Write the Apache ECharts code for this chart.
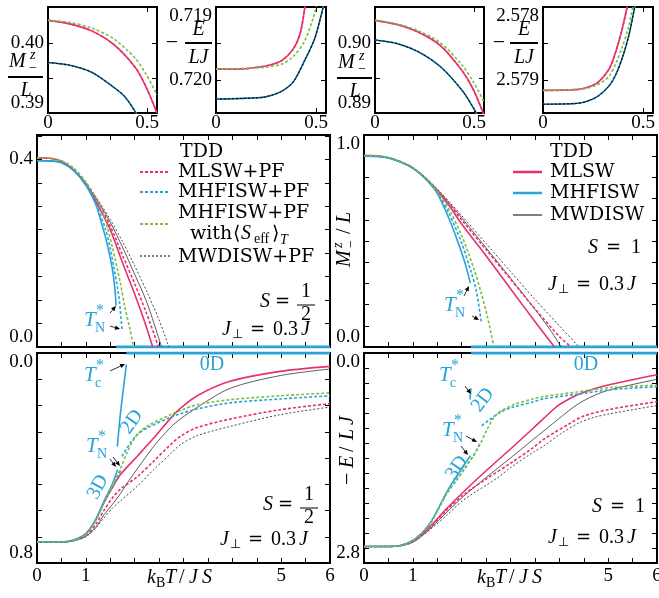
<!DOCTYPE html>
<html><head><meta charset="utf-8">
<script src="https://cdn.jsdelivr.net/npm/echarts@6/dist/echarts.min.js"></script>
<style>html,body{margin:0;padding:0;background:#fff}#c{width:659px;height:598px}</style>
</head><body><div id="c"></div>
<script>
// ---------------- DATA ----------------
// Insets, S=1/2 : M^z_-/L and -E/LJ at low T
const inM_half_pink  = [[0,0.4032],[0.11,0.4027],[0.22,0.4017],[0.33,0.3998],[0.44,0.3965],[0.495,0.3937],[0.55,0.3900]];
const inM_half_green = [[0,0.4032],[0.11,0.4029],[0.22,0.4021],[0.33,0.4006],[0.44,0.3978],[0.495,0.3955],[0.55,0.3926]];
const inM_half_blue  = [[0,0.3972],[0.11,0.3968],[0.22,0.3958],[0.33,0.3937],[0.385,0.3924],[0.44,0.3902],[0.46,0.3890]];
const inE_half_pink  = [[0,0.71985],[0.11,0.71985],[0.22,0.71982],[0.275,0.71979],[0.33,0.71973],[0.385,0.71958],[0.42,0.71937],[0.445,0.71900],[0.46,0.71875]];
const inE_half_green = [[0,0.71985],[0.22,0.71983],[0.33,0.71978],[0.385,0.71968],[0.44,0.71948],[0.485,0.71916],[0.505,0.71895]];
const inE_half_blue  = [[0,0.72026],[0.22,0.72024],[0.275,0.72021],[0.33,0.72015],[0.385,0.72003],[0.44,0.71975],[0.495,0.71942],[0.54,0.71895]];
// Insets, S=1
const inM_one_pink  = [[0,0.9032],[0.11,0.9026],[0.22,0.9015],[0.33,0.8996],[0.44,0.8960],[0.495,0.8934],[0.55,0.8897]];
const inM_one_green = [[0,0.9032],[0.11,0.9027],[0.22,0.9017],[0.33,0.9000],[0.44,0.8968],[0.495,0.8945],[0.55,0.8916]];
const inM_one_blue  = [[0,0.9004],[0.11,0.8999],[0.22,0.8987],[0.33,0.8966],[0.44,0.8932],[0.495,0.8908],[0.52,0.8895]];
const inE_one_pink  = [[0,2.57914],[0.165,2.57913],[0.22,2.5791],[0.275,2.57903],[0.33,2.57885],[0.363,2.57862],[0.396,2.5783],[0.43,2.57788]];
const inE_one_green = [[0,2.57914],[0.165,2.57913],[0.22,2.57911],[0.275,2.57906],[0.33,2.57895],[0.363,2.57878],[0.396,2.57855],[0.43,2.57825],[0.462,2.5778]];
const inE_one_blue  = [[0,2.57933],[0.165,2.57932],[0.22,2.57929],[0.275,2.57922],[0.33,2.57908],[0.363,2.57893],[0.396,2.5787],[0.43,2.57838],[0.462,2.57795]];

// Main: S=1/2 magnetization
const M_half_MLSW      = [[0,0.4032],[0.25,0.4025],[0.5,0.396],[0.75,0.378],[1.0,0.347],[1.25,0.302],[1.5,0.25],[1.75,0.18],[2.0,0.113],[2.2,0.055],[2.37,0]];
const M_half_MLSW_PF   = [[0,0.4032],[0.25,0.4025],[0.5,0.396],[0.75,0.379],[1.0,0.349],[1.25,0.307],[1.5,0.258],[1.75,0.196],[2.0,0.135],[2.25,0.07],[2.49,0]];
const M_half_MHFISW    = [[0,0.3972],[0.25,0.3968],[0.5,0.393],[0.75,0.376],[1.0,0.345],[1.2,0.305],[1.3,0.272],[1.4,0.235],[1.5,0.19],[1.56,0.155],[1.6,0.118],[1.62,0.088]];
const M_half_MHFISW_PF = [[0,0.3972],[0.25,0.3968],[0.5,0.393],[0.75,0.377],[1.0,0.346],[1.2,0.307],[1.4,0.252],[1.5,0.21],[1.58,0.166],[1.65,0.125],[1.69,0.095],[1.74,0.036]];
const M_half_Seff      = [[0,0.4032],[0.25,0.4027],[0.5,0.397],[0.75,0.382],[1.0,0.352],[1.25,0.31],[1.4,0.27],[1.55,0.21],[1.7,0.14],[1.8,0.085],[1.9,0.04],[1.98,0]];
const M_half_MWDISW    = [[0,0.3972],[0.25,0.3968],[0.5,0.393],[0.75,0.377],[1.0,0.348],[1.25,0.31],[1.5,0.266],[1.75,0.213],[2.0,0.155],[2.25,0.095],[2.55,0]];
const M_half_MWDISW_PF = [[0,0.3972],[0.25,0.3968],[0.5,0.393],[0.75,0.378],[1.0,0.35],[1.25,0.313],[1.5,0.272],[1.75,0.225],[2.0,0.173],[2.25,0.118],[2.5,0.058],[2.7,0]];
const M_half_MHFISW_0  = [[1.62,0],[6,0]];
// Main: S=1 magnetization
const M_one_MLSW      = [[0,0.9032],[0.25,0.902],[0.5,0.893],[0.75,0.873],[1.0,0.845],[1.25,0.797],[1.5,0.735],[1.75,0.665],[2.0,0.58],[2.5,0.43],[3.0,0.275],[3.5,0.12],[3.9,0]];
const M_one_MLSW_PF   = [[0,0.9032],[0.25,0.902],[0.5,0.893],[0.75,0.874],[1.0,0.846],[1.25,0.799],[1.5,0.74],[1.75,0.673],[2.0,0.6],[2.5,0.46],[3.0,0.32],[3.5,0.18],[4.0,0.05],[4.24,0]];
const M_one_MHFISW    = [[0,0.9004],[0.25,0.899],[0.5,0.892],[0.75,0.873],[1.0,0.843],[1.25,0.795],[1.5,0.725],[1.75,0.6],[1.9,0.51],[2.05,0.41],[2.18,0.30]];
const M_one_MHFISW_PF = [[0,0.9004],[0.25,0.899],[0.5,0.892],[0.75,0.874],[1.0,0.844],[1.25,0.797],[1.5,0.728],[1.75,0.625],[2.0,0.49],[2.2,0.35],[2.3,0.265],[2.4,0.121]];
const M_one_Seff      = [[0,0.9032],[0.25,0.902],[0.5,0.894],[0.75,0.875],[1.0,0.846],[1.25,0.8],[1.5,0.735],[1.75,0.645],[2.0,0.525],[2.25,0.37],[2.4,0.255],[2.53,0.14],[2.66,0]];
const M_one_MWDISW    = [[0,0.9004],[0.25,0.899],[0.5,0.892],[0.75,0.874],[1.0,0.845],[1.25,0.8],[1.5,0.742],[1.75,0.678],[2.0,0.61],[2.5,0.468],[3.0,0.325],[3.5,0.178],[3.8,0.085],[4.04,0]];
const M_one_MWDISW_PF = [[0,0.9004],[0.25,0.899],[0.5,0.892],[0.75,0.875],[1.0,0.846],[1.25,0.802],[1.5,0.746],[1.75,0.684],[2.0,0.62],[2.5,0.488],[3.0,0.356],[3.5,0.225],[4.0,0.1],[4.41,0]];
const M_one_MHFISW_0  = [[2.19,0],[6,0]];
// Main: S=1/2 energy (-E/LJ)
const E_half_MLSW      = [[0,0.7198],[0.5,0.7197],[0.75,0.712],[1.0,0.688],[1.2,0.637],[1.37,0.571],[1.54,0.514],[1.71,0.463],[2.05,0.394],[2.39,0.324],[2.73,0.25],[2.93,0.212],[3.28,0.163],[3.95,0.108],[4.98,0.07],[6,0.051]];
const E_half_MLSW_PF   = [[0,0.7198],[0.5,0.7197],[0.75,0.714],[1.0,0.695],[1.2,0.654],[1.37,0.6],[1.54,0.553],[1.71,0.518],[2.05,0.472],[2.39,0.412],[2.73,0.35],[2.93,0.318],[3.28,0.284],[3.95,0.252],[4.98,0.216],[6,0.193]];
const E_half_MWDISW    = [[0,0.7203],[0.5,0.7202],[0.75,0.715],[1.0,0.698],[1.2,0.665],[1.37,0.617],[1.54,0.578],[1.71,0.535],[1.88,0.487],[2.05,0.442],[2.39,0.356],[2.73,0.284],[2.93,0.252],[3.28,0.207],[3.95,0.135],[4.98,0.086],[6,0.061]];
const E_half_MWDISW_PF = [[0,0.7203],[0.5,0.7202],[0.75,0.716],[1.0,0.7],[1.2,0.667],[1.37,0.629],[1.54,0.592],[1.71,0.563],[2.05,0.508],[2.39,0.444],[2.73,0.385],[2.93,0.35],[3.28,0.315],[3.95,0.28],[4.98,0.235],[6,0.206]];
const E_half_MHFISW_3D = [[0,0.7203],[0.5,0.7202],[0.75,0.713],[1.0,0.69],[1.2,0.635],[1.37,0.565],[1.54,0.5],[1.65,0.445]];
const E_half_MHFISW_2D = [[1.645,0.356],[1.70,0.245],[1.76,0.15],[1.83,0.044]];
const E_half_MHFISW_0D = [[1.83,0],[6,0]];
const E_half_MHFISW_PF_3D = [[0,0.7203],[0.5,0.7202],[0.75,0.713],[1.0,0.69],[1.2,0.637],[1.37,0.57],[1.54,0.508],[1.64,0.475],[1.73,0.442]];
const E_half_MHFISW_PF_2D = [[1.74,0.394],[1.91,0.343],[2.05,0.311],[2.25,0.286],[2.73,0.245],[2.93,0.232],[3.28,0.213],[3.95,0.19],[4.98,0.175],[6,0.163]];
const E_half_Seff      = [[0,0.7198],[0.5,0.7197],[0.75,0.713],[1.0,0.69],[1.2,0.637],[1.37,0.571],[1.54,0.508],[1.64,0.47],[1.71,0.44],[1.84,0.381],[1.98,0.33],[2.08,0.305],[2.25,0.279],[2.73,0.235],[2.93,0.22],[3.28,0.197],[3.95,0.178],[4.98,0.163],[6,0.152]];
// Main: S=1 energy (-E/LJ)
const E_one_MLSW      = [[0,2.5791],[0.5,2.579],[0.75,2.566],[1.0,2.51],[1.2,2.41],[1.36,2.31],[1.7,2.07],[2.04,1.85],[2.5,1.57],[3.0,1.28],[3.47,1.0],[3.9,0.74],[4.02,0.68],[4.36,0.56],[4.7,0.48],[5.04,0.42],[6,0.29]];
const E_one_MLSW_PF   = [[0,2.5791],[0.5,2.579],[0.75,2.567],[1.0,2.515],[1.36,2.32],[1.7,2.09],[2.04,1.89],[2.5,1.68],[3.0,1.47],[3.47,1.26],[3.68,1.15],[4.24,0.93],[4.5,0.84],[5.04,0.75],[6,0.65]];
const E_one_MWDISW    = [[0,2.5793],[0.5,2.5792],[0.75,2.568],[1.0,2.52],[1.2,2.43],[1.36,2.34],[1.7,2.12],[2.04,1.91],[2.5,1.66],[3.0,1.40],[3.47,1.15],[3.68,1.04],[4.04,0.85],[4.36,0.69],[4.7,0.57],[5.04,0.49],[6,0.35]];
const E_one_MWDISW_PF = [[0,2.5793],[0.5,2.5792],[0.75,2.569],[1.0,2.525],[1.36,2.35],[1.7,2.16],[2.04,1.96],[2.72,1.67],[3.0,1.53],[3.47,1.32],[3.68,1.24],[4.02,1.08],[4.41,0.93],[4.7,0.86],[5.04,0.81],[6,0.70]];
const E_one_MHFISW_3D = [[0,2.5793],[0.5,2.5792],[0.75,2.566],[1.0,2.5],[1.2,2.39],[1.36,2.26],[1.5,2.1],[1.6,1.97],[1.7,1.85],[1.8,1.74],[1.9,1.64],[2.04,1.50],[2.18,1.37]];
const E_one_MHFISW_2D = [[2.17,0.62],[2.19,0.47]];
const E_one_MHFISW_0D = [[2.19,0],[6,0]];
const E_one_MHFISW_PF_3D = [[0,2.5793],[0.5,2.5792],[0.75,2.566],[1.0,2.5],[1.2,2.39],[1.36,2.27],[1.5,2.11],[1.7,1.87],[1.9,1.69],[2.04,1.56],[2.24,1.37],[2.32,1.28],[2.37,1.21]];
const E_one_MHFISW_PF_2D = [[2.41,0.97],[2.59,0.88],[2.79,0.79],[3.06,0.72],[3.47,0.65],[3.68,0.61],[4.36,0.55],[5.04,0.49],[6,0.45]];
const E_one_Seff      = [[0,2.5791],[0.5,2.579],[0.75,2.566],[1.0,2.5],[1.2,2.39],[1.36,2.27],[1.5,2.11],[1.7,1.87],[1.9,1.69],[2.04,1.56],[2.24,1.37],[2.38,1.21],[2.52,1.02],[2.65,0.87],[2.79,0.78],[3.06,0.69],[3.47,0.61],[3.68,0.58],[4.36,0.52],[5.04,0.46],[6,0.43]];

// tick labels
const insetXLabels = [0, 0.5];
const mainXLabels = [0, 1, 5, 6];

// ---------------- STYLE / LAYOUT ----------------
const PINK='#e8306e', BLUE='#29a3da', GREEN='#7bbf44', BLK='#333';
const grids = [
 {left:48, top:7, width:109, height:106},
 {left:216, top:7, width:110, height:106},
 {left:375, top:7, width:109, height:106},
 {left:543, top:7, width:110, height:106},
 {left:37, top:135, width:293, height:212},
 {left:364, top:135, width:293, height:212},
 {left:37, top:353, width:293, height:210},
 {left:364, top:353, width:293, height:210}
].map(g => Object.assign(g, {show:true, borderColor:'#000', borderWidth:2, backgroundColor:'transparent', containLabel:false, outerBoundsMode:'none'}));

function near(v, list){ return list.find(a => Math.abs(a - v) < 1e-7); }
function fmtList(list, dec){ return v => { const a = near(v, list); return a === undefined ? '' : (dec === null ? String(a) : a.toFixed(dec)); }; }

const xCfg = [
 {min:0,max:0.55,interval:0.5, fmt: fmtList(insetXLabels, null), margin:1},
 {min:0,max:0.55,interval:0.5, fmt: fmtList(insetXLabels, null), margin:1},
 {min:0,max:0.55,interval:0.5, fmt: fmtList(insetXLabels, null), margin:1},
 {min:0,max:0.55,interval:0.5, fmt: fmtList(insetXLabels, null), margin:1},
 {min:0,max:6,interval:0.5},
 {min:0,max:6,interval:0.5},
 {min:0,max:6,interval:0.5, fmt: fmtList(mainXLabels, 0), margin:4},
 {min:0,max:6,interval:0.5, fmt: fmtList(mainXLabels, 0), margin:4}
];
const yCfg = [
 {min:0.39, max:0.4051, interval:0.005, fmt: fmtList([0.39,0.40],2), vMin:'bottom'},
 {min:0.719, max:0.72045, interval:0.0005, inverse:true, fmt: fmtList([0.719,0.720],3), vMin:'top'},
 {min:0.89, max:0.9051, interval:0.005, fmt: fmtList([0.89,0.90],2), vMin:'bottom'},
 {min:2.578, max:2.57945, interval:0.0005, inverse:true, fmt: fmtList([2.578,2.579],3), vMin:'top'},
 {min:0, max:0.452, interval:0.05, fmt: fmtList([0,0.4],1), vMin:'bottom'},
 {min:0, max:1.0, interval:0.1, fmt: fmtList([0,1.0],1), vMin:'bottom', vMax:'top'},
 {min:0, max:0.8, interval:0.1, inverse:true, fmt: fmtList([0,0.8],1), vMin:'top', vMax:'bottom'},
 {min:0, max:2.8, interval:0.2, inverse:true, fmt: fmtList([0,2.8],1), vMin:'top', vMax:'bottom'}
];
function axisPair(kind, g, c){
  const base = {gridIndex:g, type:'value', min:c.min, max:c.max, interval:c.interval, inverse:!!c.inverse,
    axisLine:{show:false, onZero:false}, splitLine:{show:false},
    axisTick:{show:true, inside:true, length:5, lineStyle:{color:'#000', width:1}}};
  const lab = c.fmt ? {show:true, formatter:c.fmt, color:'#000', fontFamily:'Liberation Serif', fontSize:19,
     margin: c.margin ?? 4, verticalAlignMinLabel:c.vMin, verticalAlignMaxLabel:c.vMax} : {show:false};
  return [Object.assign({}, base, {position: kind==='x'?'bottom':'left', axisLabel:lab}),
          Object.assign({}, base, {position: kind==='x'?'top':'right', axisLabel:{show:false}})];
}
const xAxes = [], yAxes = [];
for (let g=0; g<8; g++){ xAxes.push(...axisPair('x', g, xCfg[g])); yAxes.push(...axisPair('y', g, yCfg[g])); }

function L(g, data, color, width, dash, z){
  return {type:'line', xAxisIndex:2*g, yAxisIndex:2*g, data, symbol:'none', showSymbol:false,
    smooth:0.3, clip:true, silent:true, z: z||3,
    lineStyle:{color, width, type: dash || 'solid'}};
}
const DP=[3,2], DK=[2,2];
const series = [];
// insets
[[0,inM_half_pink,inM_half_green,inM_half_blue],[1,inE_half_pink,inE_half_green,inE_half_blue],
 [2,inM_one_pink,inM_one_green,inM_one_blue],[3,inE_one_pink,inE_one_green,inE_one_blue]].forEach(([g,p,gr,b])=>{
  series.push(L(g,p,PINK,1.6), L(g,p,PINK,1.6,DP), L(g,gr,GREEN,1.6,DP),
              L(g,b,BLUE,1.6), L(g,b,BLUE,1.6,DP), L(g,b,BLK,0.8), L(g,b,'#000',1,DK,4));
});
// middle-left
series.push(L(4,M_half_MHFISW_0,BLUE,3,null,2),
  L(4,M_half_MWDISW,BLK,0.8), L(4,M_half_MWDISW_PF,BLK,0.9,DK),
  L(4,M_half_MLSW,PINK,1.6), L(4,M_half_MLSW_PF,PINK,1.6,DP),
  L(4,M_half_MHFISW,BLUE,1.6), L(4,M_half_MHFISW_PF,BLUE,1.6,DP), L(4,M_half_Seff,GREEN,1.6,DP));
// middle-right
series.push(L(5,M_one_MHFISW_0,BLUE,3,null,2),
  L(5,M_one_MWDISW,BLK,0.8), L(5,M_one_MWDISW_PF,BLK,0.9,DK),
  L(5,M_one_MLSW,PINK,1.6), L(5,M_one_MLSW_PF,PINK,1.6,DP),
  L(5,M_one_MHFISW,BLUE,1.6), L(5,M_one_MHFISW_PF,BLUE,1.6,DP), L(5,M_one_Seff,GREEN,1.6,DP));
// bottom-left
series.push(L(6,E_half_MHFISW_0D,BLUE,3,null,2),
  L(6,E_half_MWDISW,BLK,0.8), L(6,E_half_MWDISW_PF,BLK,0.9,DK),
  L(6,E_half_MLSW,PINK,1.6), L(6,E_half_MLSW_PF,PINK,1.6,DP),
  L(6,E_half_MHFISW_3D,BLUE,1.6), L(6,E_half_MHFISW_2D,BLUE,1.6),
  L(6,E_half_MHFISW_PF_3D,BLUE,1.6,DP), L(6,E_half_MHFISW_PF_2D,BLUE,1.6,DP), L(6,E_half_Seff,GREEN,1.6,DP));
// bottom-right
series.push(L(7,E_one_MHFISW_0D,BLUE,3,null,2),
  L(7,E_one_MWDISW,BLK,0.8), L(7,E_one_MWDISW_PF,BLK,0.9,DK),
  L(7,E_one_MLSW,PINK,1.6), L(7,E_one_MLSW_PF,PINK,1.6,DP),
  L(7,E_one_MHFISW_3D,BLUE,1.6), L(7,E_one_MHFISW_2D,BLUE,1.6),
  L(7,E_one_MHFISW_PF_3D,BLUE,1.6,DP), L(7,E_one_MHFISW_PF_2D,BLUE,1.6,DP), L(7,E_one_Seff,GREEN,1.6,DP));

// ---------------- TEXT / DECORATION ----------------
const MI = "italic 20px 'Liberation Serif'", RM = "20px 'Liberation Serif'", TXT = "19px 'DejaVu Serif'";
const EQ = "18px 'DejaVu Serif'";
const SMI = "italic 14px 'Liberation Serif'", SRM = "14px 'Liberation Serif'";
function T(x,y,s,font,fill,align,rot){ const e={type:'text', x, y, z:100, silent:true,
  style:{text:s, font, fill:fill||'#000', align:align||'left', verticalAlign:'middle'}}; if(rot) e.rotation=rot; return e; }
function Ln(x1,y1,x2,y2,color,w,dash){ return {type:'line', z:100, silent:true, shape:{x1,y1,x2,y2}, style:{stroke:color||'#000', lineWidth:w||1, lineDash:dash||null}}; }
function Arrow(x1,y1,x2,y2){ const a=Math.atan2(y2-y1,x2-x1), l=5, h=2.2, c=Math.cos(a), s=Math.sin(a);
  return [Ln(x1,y1,x2-l*c*0.6,y2-l*s*0.6,'#000',0.8),
   {type:'polygon', z:100, silent:true, shape:{points:[[x2,y2],[x2-l*c+h*s,y2-l*s-h*c],[x2-l*c-h*s,y2-l*s+h*c]]}, style:{fill:'#000'}}]; }
function Tstar(x,y,sub){ return [T(x,y,'T',"italic 21px 'Liberation Serif'",BLUE), T(x+12,y-9,'*',"16px 'Liberation Serif'",BLUE), T(x+11,y+8,sub,SRM,BLUE)]; }
function Jperp(x,y){ return [T(x,y,'J',MI), T(x+10,y+5,'⊥',"13px 'DejaVu Sans'"), T(x+28,y,'=',EQ), T(x+51,y,'0.3',RM), T(x+79,y,'J',MI)]; }
function Shalf(x,y){ return [T(x,y,'S',MI), T(x+15,y,'=',EQ), T(x+46,y-10,'1',RM,null,'center'), Ln(x+37,y+3,x+55,y+3,'#000',1), T(x+46,y+13,'2',RM,null,'center')]; }
function Sone(x,y){ return [T(x,y,'S',MI), T(x+18,y,'=',EQ), T(x+43,y,'1',RM)]; }
function Mfrac(x,y){ // fraction M^z_-/L, x left, y = bar
  return [T(x+1,y-15,'M',MI), T(x+22,y-22,'z',SMI), T(x+21,y-9,'−',SRM), Ln(x,y,x+35,y,'#000',2), T(x+18,y+14,'L',MI,null,'center')]; }
function Efrac(xm,xb,w,y){ return [T(xm,y,'−',"22px 'Liberation Serif'",null,'center'), T(xb+w/2,y-13,'E',MI,null,'center'), Ln(xb,y,xb+w,y,'#000',2), T(xb+w/2,y+15,'LJ',MI,null,'center')]; }
function kBT(x,y){ return [T(x,y,'k',MI), T(x+9,y+5,'B',SRM), T(x+18,y,'T',MI), T(x+32,y,'/',RM), T(x+42,y,'J',MI), T(x+55,y,'S',MI)]; }

const G = [];
// inset y labels
G.push(...Mfrac(8,77), ...Efrac(172,185,27,43), ...Mfrac(337,78), ...Efrac(499,510,28,43));
// middle-left legend
G.push(T(180,152,'TDD',TXT),
  Ln(140,172,170,172,PINK,2,[3,2]), T(178,172,'MLSW+PF',TXT),
  Ln(140,192,170,192,BLUE,2,[3,2]), T(178,192,'MHFISW+PF',TXT),
  Ln(140,224,170,224,GREEN,2,[3,2]), T(178,213,'MHFISW+PF',TXT),
  T(190,234,'with',TXT), T(233,234,'⟨',"19px 'DejaVu Sans'"), T(241,234,'S',MI), T(254,239,'eff',SRM), T(272,234,'⟩',"19px 'DejaVu Sans'"), T(280,240,'T',SMI),
  Ln(140,256,170,256,'#000',1,[2,2]), T(178,257,'MWDISW+PF',TXT));
G.push(...Shalf(260,302), ...Jperp(222,330));
G.push(...Tstar(84,320,'N'), ...Arrow(110,313,116,306), ...Arrow(110,326,120,329));
// middle-right legend
G.push(T(550,152,'TDD',TXT),
  Ln(513,172,542,172,PINK,2.5), T(550,172,'MLSW',TXT),
  Ln(513,193,542,193,BLUE,2.5), T(550,193,'MHFISW',TXT),
  Ln(513,215,542,215,'#000',1), T(550,215,'MWDISW',TXT));
G.push(...Sone(588,248), ...Jperp(548,285));
G.push(...Tstar(444,305,'N'), ...Arrow(464,296,469,286), ...Arrow(472,316,479,320));
// middle-right y name (rotated)
G.push({type:'group', x:345, y:267, rotation:Math.PI/2, children:[
  T(0,0,'M',MI), T(19,-7,'z',SMI), T(19,6,'−',SRM), T(33,0,'/',RM), T(44,0,'L',MI)]});
// bottom-left
G.push(...Tstar(84,375,'c'), ...Arrow(110,371,125,364));
G.push(...Tstar(86,446,'N'), ...Arrow(110,459,116,467), ...Arrow(113,457,120,466));
G.push(T(98,487,'3D',RM,BLUE,'center',62*Math.PI/180), T(132,422,'2D',RM,BLUE,'center',55*Math.PI/180), T(212,365,'0D',RM,BLUE,'center'));
G.push(...Shalf(263,505), ...Jperp(220,540), ...kBT(147,578));
// bottom-right
G.push(...Tstar(439,375,'c'), ...Arrow(465,386,471,394));
G.push(...Tstar(442,430,'N'), ...Arrow(466,436,477,442), ...Arrow(461,446,468,455));
G.push(T(457,468,'3D',RM,BLUE,'center',56*Math.PI/180), T(483,400,'2D',RM,BLUE,'center',53*Math.PI/180), T(586,365,'0D',RM,BLUE,'center'));
G.push(...Sone(592,507), ...Jperp(548,538), ...kBT(477,578));
G.push({type:'group', x:348, y:485, rotation:Math.PI/2, children:[
  T(0,0,'−',"22px 'Liberation Serif'"), T(17,0,'E',MI), T(33,0,'/',RM), T(45,0,'L',MI), T(60,0,'J',MI)]});

const chart = echarts.init(document.getElementById('c'), null, {renderer:'canvas', width:659, height:598});
chart.setOption({animation:false, backgroundColor:'#fff', grid:grids, xAxis:xAxes, yAxis:yAxes, series, graphic:{elements:G}});
</script></body></html>
